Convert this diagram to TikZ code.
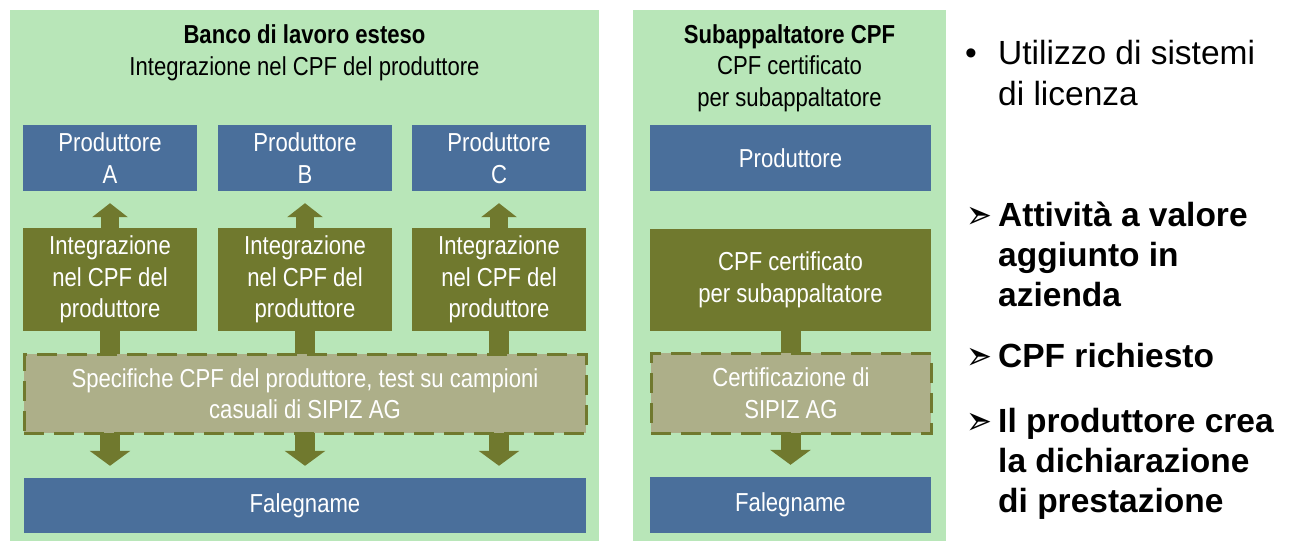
\documentclass[tikz,border=0pt]{standalone}
\usepackage{fontspec}
\setmainfont{Liberation Sans}
\newfontfamily\narrowfont[FakeStretch=0.85]{Liberation Sans}
\newfontfamily\arrowfont{DejaVu Sans}
\usetikzlibrary{arrows.meta}

\definecolor{panelgreen}{RGB}{184,230,184}
\definecolor{boxblue}{RGB}{74,111,155}
\definecolor{boxolive}{RGB}{112,121,46}
\definecolor{boxkhaki}{RGB}{173,175,137}

\tikzset{
	boxtext/.style={font=\narrowfont\fontsize{26}{31.5}\selectfont, text=white, align=center, inner sep=0pt},
	bluebox/.style={boxtext, fill=boxblue},
	olivebox/.style={boxtext, fill=boxolive},
	testbox/.style={boxtext, fill=boxkhaki, draw=boxolive, line width=3pt, dash pattern=on 20pt off 10pt},
	paneltitle/.style={font=\narrowfont\fontsize{26}{31.5}\selectfont, align=center, inner sep=0pt},
	uparrow/.style={draw=boxolive, line width=18pt, -{Triangle[length=14pt, width=35pt]}, shorten >=12pt},
	downarrow/.style={draw=boxolive, line width=20pt, -{Triangle[length=15pt, width=40pt]}, shorten >=12pt},
	itemtext/.style={font=\fontsize{33.5}{40.5}\selectfont, align=left, anchor=base west, inner sep=0pt},
	pointer/.style={font=\arrowfont\fontsize{31}{31}\selectfont, yscale=-1.3, anchor=west, inner sep=0pt}
}

\newcommand{\drawpanel}[4]{% x1, y1, x2, y2
	\fill[panelgreen] (#1, #2) rectangle (#3, #4);
}
\newcommand{\placebox}[6]{% name, x1, y1, x2, y2, style
	\node[#6, minimum width={#4 - #2}, minimum height={#5 - #3}] (#1) at ({(#2 + #4) / 2}, {(#3 + #5) / 2})
}

\begin{document}
\begin{tikzpicture}[x=1pt, y=-1pt]
\useasboundingbox (0, 0) rectangle (1292, 541);

% left panel
\drawpanel{10}{10}{599}{541}
\node[paneltitle] (titleL) at (304.5, 53) {\textbf{Banco di lavoro esteso}\\Integrazione nel CPF del produttore};

\placebox{prodA}{23}{125}{197}{191}{bluebox} {Produttore\\A};
\placebox{prodB}{218}{125}{392}{191}{bluebox} {Produttore\\B};
\placebox{prodC}{412}{125}{586}{191}{bluebox} {Produttore\\C};

\placebox{intA}{23}{228}{197}{331}{olivebox} {Integrazione\\nel CPF del\\produttore};
\placebox{intB}{218}{228}{392}{331}{olivebox} {Integrazione\\nel CPF del\\produttore};
\placebox{intC}{412}{228}{586}{331}{olivebox} {Integrazione\\nel CPF del\\produttore};

\placebox{faleL}{24}{478}{586}{533}{bluebox} {Falegname};

\foreach \n in {A, B, C}
{
	\draw[uparrow] (int\n) -- (prod\n);
	\draw[downarrow] (int\n.south) -- (faleL.north -| int\n.south);
}

\placebox{specL}{24}{354}{586}{433}{testbox} {Specifiche CPF del produttore, test su campioni\\casuali di SIPIZ AG};

% right panel
\drawpanel{633}{10}{946}{541}
\node[paneltitle] (titleR) at (789.5, 68) {\textbf{Subappaltatore CPF}\\CPF certificato\\per subappaltatore};

\placebox{prodR}{650}{125}{931}{191}{bluebox} {Produttore};
\placebox{certR}{650}{229}{931}{331}{olivebox} {CPF certificato\\per subappaltatore};
\placebox{faleR}{650}{477}{931}{533}{bluebox} {Falegname};

\draw[downarrow] (certR) -- (faleR);

\placebox{specR}{651}{353}{931}{433}{testbox} {Certificazione di\\SIPIZ AG};

% notes (base = last line)
\node[font=\fontsize{33.5}{40.5}\selectfont, anchor=base, inner sep=0pt] (dotA) at (971, 64) {•};
\node[itemtext] (noteA) at (998, 105) {Utilizzo di sistemi\\di licenza};

\node[pointer] (ptrB) at (966, 214) {➢};
\node[itemtext, font=\bfseries\fontsize{33.5}{40}\selectfont] (noteB) at (998, 306) {Attività a valore\\aggiunto in\\azienda};

\node[pointer] (ptrC) at (966, 355) {➢};
\node[itemtext, font=\bfseries\fontsize{33.5}{40}\selectfont] (noteC) at (998, 367) {CPF richiesto};

\node[pointer] (ptrD) at (966, 420) {➢};
\node[itemtext, font=\bfseries\fontsize{33.5}{40}\selectfont] (noteD) at (998, 512) {Il produttore crea\\la dichiarazione\\di prestazione};
\end{tikzpicture}
\end{document}
